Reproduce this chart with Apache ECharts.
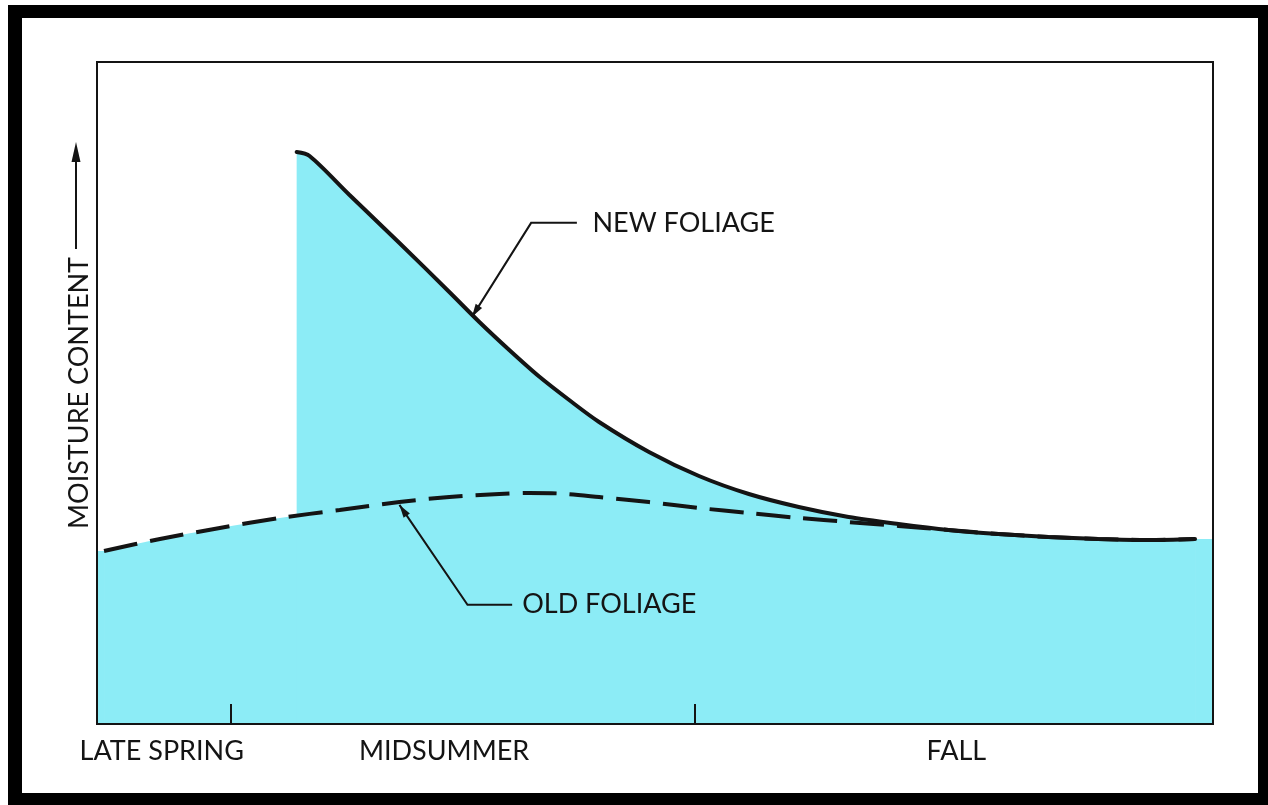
<!DOCTYPE html>
<html>
<head>
<meta charset="utf-8">
<title>Moisture content of foliage through the season</title>
<script src="https://cdn.jsdelivr.net/npm/echarts@6/dist/echarts.min.js"></script>
<style>
  html, body { margin: 0; padding: 0; background: #ffffff; }
  #chart { position: absolute; left: 0; top: 0; width: 1268px; height: 805px; }
  /* heavy black frame round the figure */
  #frame {
    position: absolute; left: 8px; top: 5px; width: 1260px; height: 800px;
    box-sizing: border-box; border-style: solid; border-color: #000;
    border-width: 13px 10px 12px 14px; pointer-events: none;
  }
</style>
</head>
<body>
<div id="chart"></div>
<div id="frame"></div>
<script>
// Season position (0 = start of late spring, 100 = end of fall) and relative moisture content
const oldFoliageX = [0.63, 5.64, 11.00, 16.37, 21.74, 27.10, 31.57, 36.05, 38.73, 41.41, 44.99, 49.46, 53.94, 58.41, 62.88, 67.35, 71.82, 76.30, 80.77, 85.24, 89.71, 94.19, 98.39];
const oldFoliageY = [26.13, 27.95, 29.61, 31.12, 32.33, 33.53, 34.29, 34.74, 34.89, 34.82, 34.29, 33.53, 32.63, 31.87, 31.12, 30.51, 29.91, 29.31, 28.70, 28.25, 27.95, 27.79, 27.95];

const newFoliageX = [17.89, 19.05, 22.63, 27.10, 31.57, 34.26, 36.94, 39.62, 42.31, 44.99, 49.46, 53.94, 58.41, 62.88, 67.35, 71.82, 76.30, 80.77, 85.24, 89.71, 94.19, 98.39];
const newFoliageY = [86.40, 85.80, 79.91, 72.66, 65.26, 60.73, 56.50, 52.49, 48.94, 45.62, 41.09, 37.46, 34.74, 32.78, 31.27, 30.21, 29.31, 28.70, 28.25, 27.95, 27.79, 27.95];

// Season names along the bottom, their centres, and the boundary ticks
const seasonNames = ['LATE SPRING', 'MIDSUMMER', 'FALL'];
const seasonNamePos = [5.8, 31.1, 77.0];
const seasonBoundaries = [12.0, 53.6];

// Callouts: text anchor, leader start, bend point and arrow tip, in data units
const calloutNames = ['NEW FOLIAGE', 'OLD FOLIAGE'];
const calloutText = [[44.4, 75.6], [38.1, 18.1]];
const calloutStart = [[43.0, 75.7], [37.2, 18.0]];
const calloutBend = [[38.9, 75.7], [33.2, 18.0]];
const calloutTip = [[33.6, 61.5], [27.1, 33.1]];

const X_MIN = 0, X_MAX = 100;
const FILL = '#8cecf6';
const INK = '#141414';
const FONT = 'Lato, "Open Sans", sans-serif';
const FONT_SIZE = 27;

const pairs = (xs, ys) => xs.map((x, i) => [x, ys[i]]);
const oldData = pairs(oldFoliageX, oldFoliageY);
const newData = pairs(newFoliageX, newFoliageY);

// shading carried out to the plot edges at the end values of each curve
const leftEdge = [[X_MIN, oldFoliageY[0]], oldData[0]];
const rightEdge = [newData[newData.length - 1], [X_MAX, newFoliageY[newFoliageY.length - 1]]];

const chart = echarts.init(document.getElementById('chart'), null, { renderer: 'canvas' });

const SMOOTH = 0.3;
const areaSeries = (data, smooth) => ({
  type: 'line', data: data, smooth: smooth, symbol: 'none', z: 1,
  lineStyle: { width: 0, opacity: 0 },
  areaStyle: { color: FILL, opacity: 1 },
  silent: true
});

chart.setOption({
  animation: false,
  backgroundColor: 'transparent',
  grid: {
    left: 97, top: 62, right: 55, bottom: 81, z: 10,
    show: true, borderColor: INK, borderWidth: 2, backgroundColor: 'transparent'
  },
  xAxis: {
    type: 'value', min: X_MIN, max: X_MAX, z: 10,
    splitLine: { show: false },
    axisLine: { show: true, onZero: false, lineStyle: { color: INK, width: 2 } },
    axisTick: {
      show: true, inside: true, length: 20, customValues: seasonBoundaries,
      lineStyle: { color: INK, width: 2 }
    },
    axisLabel: {
      show: true, customValues: seasonNamePos, margin: 14,
      color: INK, fontFamily: FONT, fontSize: FONT_SIZE,
      formatter: v => seasonNames[seasonNamePos.indexOf(v)]
    }
  },
  yAxis: {
    type: 'value', min: 0, max: 100,
    name: 'MOISTURE CONTENT', nameLocation: 'middle', nameRotate: 90, nameGap: 4,
    nameTextStyle: { color: INK, fontFamily: FONT, fontSize: FONT_SIZE },
    axisLine: { show: false }, axisTick: { show: false },
    axisLabel: { show: false }, splitLine: { show: false }
  },
  series: [
    areaSeries(leftEdge, false),
    areaSeries(oldData, SMOOTH),
    areaSeries(newData, SMOOTH),
    areaSeries(rightEdge, false),
    {
      name: 'Old foliage', type: 'line', data: oldData, smooth: SMOOTH,
      symbol: 'none', z: 3,
      lineStyle: { color: INK, width: 4, type: [34, 13], cap: 'butt' }
    },
    {
      name: 'New foliage', type: 'line', data: newData, smooth: SMOOTH,
      symbol: 'none', z: 4,
      lineStyle: { color: INK, width: 4, cap: 'round' }
    }
  ]
});

// leader lines with arrowheads, and the callout text
function arrowHead(tip, from, len, half) {
  const dx = tip[0] - from[0], dy = tip[1] - from[1];
  const d = Math.hypot(dx, dy);
  const ux = dx / d, uy = dy / d;
  const bx = tip[0] - ux * len, by = tip[1] - uy * len;
  return [tip, [bx - uy * half, by + ux * half], [bx + uy * half, by - ux * half]];
}

const toPx = p => chart.convertToPixel({ gridIndex: 0 }, p);
const graphics = [];
calloutNames.forEach((name, i) => {
  const s = toPx(calloutStart[i]);
  const b = toPx(calloutBend[i]);
  const t = toPx(calloutTip[i]);
  const tx = toPx(calloutText[i]);
  graphics.push({
    type: 'polyline', z: 10, silent: true,
    shape: { points: [s, b, t] },
    style: { stroke: INK, lineWidth: 2, fill: null }
  });
  graphics.push({
    type: 'polygon', z: 10, silent: true,
    shape: { points: arrowHead(t, b, 13, 3.8) },
    style: { fill: INK }
  });
  graphics.push({
    type: 'text', z: 10, silent: true, x: tx[0], y: tx[1],
    style: {
      text: name, fill: INK, font: FONT_SIZE + 'px ' + FONT,
      textAlign: 'left', textVerticalAlign: 'middle'
    }
  });
});

// upward arrow continuing the vertical axis title
graphics.push({
  type: 'line', z: 10, silent: true,
  shape: { x1: 76, y1: 249, x2: 76, y2: 155 },
  style: { stroke: INK, lineWidth: 2 }
});
graphics.push({
  type: 'polygon', z: 10, silent: true,
  shape: { points: [[76, 142], [71.5, 162], [80.5, 162]] },
  style: { fill: INK }
});

chart.setOption({ graphic: graphics });
</script>
</body>
</html>
